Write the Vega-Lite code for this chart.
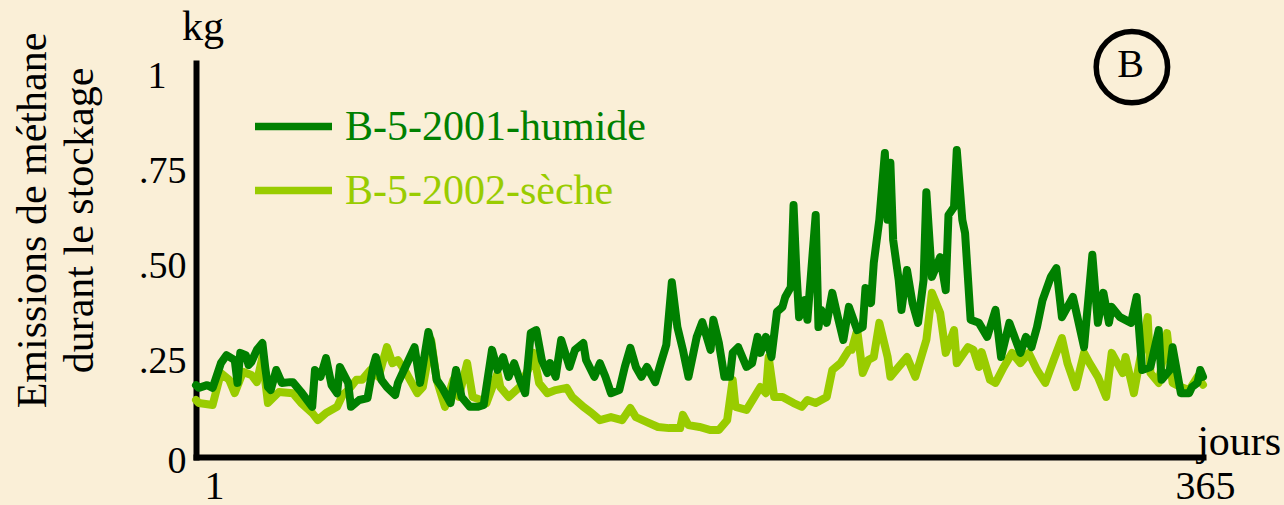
{
  "$schema": "https://vega.github.io/schema/vega-lite/v6.json",
  "autosize": "none",
  "width": 1007,
  "height": 394,
  "padding": {"left": 196, "top": 63, "right": 81, "bottom": 48},
  "background": "#FAEFD7",
  "config": {"font": "Liberation Serif", "view": {"stroke": null}, "legend": {"labelFont": "Liberation Serif"}, "axis": {"labelFont": "Liberation Serif", "titleFont": "Liberation Serif"}},
  "datasets": {
    "humide": [
{"day":1,"kg":0.189},{"day":2,"kg":0.182},{"day":5,"kg":0.189},{"day":7,"kg":0.182},{"day":8,"kg":0.203},{"day":10,"kg":0.247},{"day":12,"kg":0.268},{"day":15,"kg":0.255},{"day":16,"kg":0.195},{"day":17,"kg":0.274},{"day":19,"kg":0.268},{"day":20,"kg":0.242},{"day":21,"kg":0.25},{"day":23,"kg":0.282},{"day":25,"kg":0.30},{"day":26,"kg":0.237},{"day":27,"kg":0.184},{"day":28,"kg":0.176},{"day":30,"kg":0.229},{"day":32,"kg":0.195},{"day":35,"kg":0.197},{"day":36,"kg":0.197},{"day":39,"kg":0.171},{"day":43,"kg":0.132},{"day":44,"kg":0.229},{"day":46,"kg":0.211},{"day":48,"kg":0.26},{"day":50,"kg":0.189},{"day":52,"kg":0.168},{"day":53,"kg":0.237},{"day":56,"kg":0.195},{"day":57,"kg":0.132},{"day":60,"kg":0.15},{"day":63,"kg":0.155},{"day":65,"kg":0.237},{"day":66,"kg":0.263},{"day":68,"kg":0.203},{"day":70,"kg":0.184},{"day":73,"kg":0.163},{"day":74,"kg":0.195},{"day":77,"kg":0.242},{"day":80,"kg":0.289},{"day":82,"kg":0.195},{"day":85,"kg":0.329},{"day":86,"kg":0.30},{"day":88,"kg":0.203},{"day":90,"kg":0.182},{"day":93,"kg":0.142},{"day":95,"kg":0.229},{"day":97,"kg":0.158},{"day":100,"kg":0.132},{"day":103,"kg":0.132},{"day":105,"kg":0.137},{"day":108,"kg":0.282},{"day":110,"kg":0.229},{"day":112,"kg":0.263},{"day":114,"kg":0.211},{"day":116,"kg":0.247},{"day":118,"kg":0.203},{"day":120,"kg":0.168},{"day":122,"kg":0.326},{"day":124,"kg":0.334},{"day":126,"kg":0.255},{"day":128,"kg":0.221},{"day":129,"kg":0.247},{"day":131,"kg":0.211},{"day":133,"kg":0.308},{"day":136,"kg":0.237},{"day":138,"kg":0.282},{"day":141,"kg":0.30},{"day":142,"kg":0.255},{"day":145,"kg":0.211},{"day":147,"kg":0.247},{"day":149,"kg":0.211},{"day":151,"kg":0.168},{"day":154,"kg":0.176},{"day":156,"kg":0.237},{"day":158,"kg":0.287},{"day":160,"kg":0.237},{"day":162,"kg":0.211},{"day":164,"kg":0.237},{"day":167,"kg":0.197},{"day":169,"kg":0.247},{"day":171,"kg":0.295},{"day":173,"kg":0.46},{"day":175,"kg":0.342},{"day":177,"kg":0.282},{"day":179,"kg":0.211},{"day":182,"kg":0.316},{"day":184,"kg":0.355},{"day":187,"kg":0.282},{"day":188,"kg":0.361},{"day":190,"kg":0.30},{"day":192,"kg":0.211},{"day":194,"kg":0.211},{"day":195,"kg":0.274},{"day":197,"kg":0.289},{"day":200,"kg":0.237},{"day":202,"kg":0.247},{"day":204,"kg":0.316},{"day":205,"kg":0.274},{"day":207,"kg":0.316},{"day":209,"kg":0.263},{"day":211,"kg":0.382},{"day":213,"kg":0.395},{"day":214,"kg":0.421},{"day":216,"kg":0.447},{"day":217,"kg":0.663},{"day":218,"kg":0.492},{"day":219,"kg":0.368},{"day":221,"kg":0.413},{"day":222,"kg":0.361},{"day":225,"kg":0.637},{"day":226,"kg":0.342},{"day":227,"kg":0.387},{"day":229,"kg":0.353},{"day":231,"kg":0.432},{"day":233,"kg":0.368},{"day":235,"kg":0.308},{"day":237,"kg":0.395},{"day":240,"kg":0.334},{"day":242,"kg":0.342},{"day":243,"kg":0.445},{"day":245,"kg":0.405},{"day":246,"kg":0.511},{"day":248,"kg":0.624},{"day":250,"kg":0.80},{"day":251,"kg":0.624},{"day":252,"kg":0.774},{"day":253,"kg":0.571},{"day":255,"kg":0.466},{"day":256,"kg":0.387},{"day":258,"kg":0.492},{"day":260,"kg":0.405},{"day":262,"kg":0.353},{"day":264,"kg":0.466},{"day":265,"kg":0.697},{"day":267,"kg":0.474},{"day":270,"kg":0.526},{"day":272,"kg":0.439},{"day":273,"kg":0.637},{"day":275,"kg":0.658},{"day":276,"kg":0.808},{"day":278,"kg":0.624},{"day":279,"kg":0.589},{"day":281,"kg":0.361},{"day":284,"kg":0.353},{"day":287,"kg":0.316},{"day":290,"kg":0.387},{"day":292,"kg":0.263},{"day":295,"kg":0.353},{"day":299,"kg":0.274},{"day":301,"kg":0.316},{"day":303,"kg":0.289},{"day":305,"kg":0.342},{"day":307,"kg":0.413},{"day":310,"kg":0.474},{"day":312,"kg":0.497},{"day":314,"kg":0.368},{"day":318,"kg":0.421},{"day":322,"kg":0.289},{"day":325,"kg":0.532},{"day":327,"kg":0.353},{"day":329,"kg":0.432},{"day":331,"kg":0.353},{"day":332,"kg":0.395},{"day":335,"kg":0.368},{"day":339,"kg":0.353},{"day":341,"kg":0.421},{"day":343,"kg":0.229},{"day":346,"kg":0.237},{"day":349,"kg":0.334},{"day":350,"kg":0.203},{"day":353,"kg":0.229},{"day":354,"kg":0.289},{"day":357,"kg":0.168},{"day":360,"kg":0.168},{"day":361,"kg":0.184},{"day":363,"kg":0.195},{"day":364,"kg":0.229},{"day":365,"kg":0.211}
    ],
    "seche": [
{"day":1,"kg":0.15},{"day":2,"kg":0.142},{"day":7,"kg":0.137},{"day":10,"kg":0.221},{"day":13,"kg":0.203},{"day":15,"kg":0.168},{"day":18,"kg":0.224},{"day":21,"kg":0.216},{"day":23,"kg":0.197},{"day":25,"kg":0.263},{"day":27,"kg":0.142},{"day":31,"kg":0.171},{"day":36,"kg":0.168},{"day":39,"kg":0.142},{"day":43,"kg":0.116},{"day":45,"kg":0.097},{"day":48,"kg":0.116},{"day":52,"kg":0.132},{"day":54,"kg":0.163},{"day":56,"kg":0.176},{"day":59,"kg":0.203},{"day":61,"kg":0.203},{"day":64,"kg":0.229},{"day":67,"kg":0.211},{"day":70,"kg":0.289},{"day":72,"kg":0.247},{"day":74,"kg":0.255},{"day":77,"kg":0.221},{"day":81,"kg":0.168},{"day":83,"kg":0.184},{"day":86,"kg":0.308},{"day":88,"kg":0.203},{"day":91,"kg":0.132},{"day":94,"kg":0.203},{"day":96,"kg":0.158},{"day":99,"kg":0.247},{"day":101,"kg":0.158},{"day":104,"kg":0.15},{"day":106,"kg":0.142},{"day":110,"kg":0.221},{"day":111,"kg":0.184},{"day":114,"kg":0.158},{"day":118,"kg":0.184},{"day":121,"kg":0.229},{"day":123,"kg":0.274},{"day":125,"kg":0.195},{"day":128,"kg":0.168},{"day":131,"kg":0.176},{"day":135,"kg":0.182},{"day":137,"kg":0.158},{"day":141,"kg":0.132},{"day":144,"kg":0.116},{"day":147,"kg":0.097},{"day":151,"kg":0.105},{"day":155,"kg":0.097},{"day":158,"kg":0.129},{"day":160,"kg":0.105},{"day":164,"kg":0.092},{"day":168,"kg":0.079},{"day":172,"kg":0.076},{"day":176,"kg":0.076},{"day":177,"kg":0.111},{"day":179,"kg":0.084},{"day":183,"kg":0.079},{"day":187,"kg":0.071},{"day":190,"kg":0.071},{"day":193,"kg":0.097},{"day":195,"kg":0.203},{"day":196,"kg":0.132},{"day":200,"kg":0.124},{"day":205,"kg":0.184},{"day":207,"kg":0.168},{"day":208,"kg":0.263},{"day":210,"kg":0.158},{"day":213,"kg":0.158},{"day":217,"kg":0.142},{"day":220,"kg":0.132},{"day":222,"kg":0.15},{"day":225,"kg":0.142},{"day":229,"kg":0.158},{"day":231,"kg":0.229},{"day":234,"kg":0.247},{"day":237,"kg":0.282},{"day":238,"kg":0.282},{"day":240,"kg":0.334},{"day":242,"kg":0.221},{"day":244,"kg":0.255},{"day":246,"kg":0.263},{"day":248,"kg":0.353},{"day":251,"kg":0.263},{"day":252,"kg":0.211},{"day":255,"kg":0.237},{"day":258,"kg":0.263},{"day":261,"kg":0.211},{"day":265,"kg":0.308},{"day":267,"kg":0.432},{"day":270,"kg":0.379},{"day":272,"kg":0.274},{"day":275,"kg":0.334},{"day":276,"kg":0.247},{"day":280,"kg":0.289},{"day":282,"kg":0.282},{"day":284,"kg":0.237},{"day":285,"kg":0.276},{"day":288,"kg":0.203},{"day":290,"kg":0.195},{"day":293,"kg":0.237},{"day":296,"kg":0.274},{"day":299,"kg":0.247},{"day":302,"kg":0.274},{"day":305,"kg":0.229},{"day":308,"kg":0.195},{"day":311,"kg":0.255},{"day":314,"kg":0.313},{"day":316,"kg":0.247},{"day":319,"kg":0.184},{"day":322,"kg":0.274},{"day":324,"kg":0.247},{"day":327,"kg":0.211},{"day":330,"kg":0.158},{"day":332,"kg":0.274},{"day":336,"kg":0.221},{"day":337,"kg":0.263},{"day":340,"kg":0.168},{"day":342,"kg":0.247},{"day":345,"kg":0.368},{"day":346,"kg":0.221},{"day":349,"kg":0.195},{"day":352,"kg":0.326},{"day":354,"kg":0.195},{"day":357,"kg":0.184},{"day":360,"kg":0.176},{"day":363,"kg":0.211},{"day":365,"kg":0.19}
    ]
  },
  "layer": [
    {
      "data": {"name": "seche"},
      "transform": [{"calculate": "'B-5-2002-sèche'", "as": "series"}],
      "mark": {"type": "line", "strokeWidth": 8, "strokeJoin": "round", "strokeCap": "round", "clip": false},
      "encoding": {
        "x": {"field": "day", "type": "quantitative", "scale": {"domain": [1, 365], "nice": false, "zero": false},
          "axis": {"values": [1, 365], "format": "d", "ticks": false, "grid": false, "title": null, "labelFlush": false,
            "domainColor": "black", "domainWidth": 6, "domainCap": "square",
            "labelFont": "Liberation Serif", "labelFontSize": 40, "labelColor": "black", "labelPadding": 9,
            "labelOffset": {"condition": {"test": "datum.value == 1", "value": 18}, "value": 2}}},
        "y": {"field": "kg", "type": "quantitative", "scale": {"domain": [0, 1.0368], "nice": false},
          "axis": {"values": [0, 0.25, 0.5, 0.75, 1], "ticks": false, "grid": false, "labelFlush": false,
            "labelExpr": "datum.value == 0 ? '0' : datum.value == 1 ? '1' : replace(format(datum.value, '.2f'), '0.', '.')",
            "domainColor": "black", "domainWidth": 6, "domainCap": "square",
            "labelFont": "Liberation Serif", "labelFontSize": 38, "labelColor": "black",
            "labelPadding": {"condition": {"test": "datum.value == 1", "value": 30}, "value": 10},
            "labelOffset": {"condition": {"test": "datum.value == 0", "value": 4}, "value": 0},
            "title": ["Emissions de méthane", "durant le stockage"],
            "titleFont": "Liberation Serif", "titleFontSize": 42, "titleFontWeight": "normal", "titleColor": "black",
            "titleAngle": 270, "titleX": -151, "titleY": 157, "titleAlign": "center", "titleBaseline": "alphabetic", "titleLineHeight": 47}},
        "color": {"field": "series", "type": "nominal",
          "scale": {"domain": ["B-5-2001-humide", "B-5-2002-sèche"], "range": ["#008000", "#99CC00"]},
          "legend": {"orient": "none", "legendX": 55, "legendY": 21, "title": null, "padding": 0,
            "symbolType": "stroke", "symbolSize": 5929, "symbolStrokeWidth": 7.5,
            "labelFont": "Liberation Serif", "labelFontSize": 42, "labelOffset": 9, "rowPadding": 0, "labelLimit": 0,
            "labelColor": {"expr": "datum.label == 'B-5-2001-humide' ? '#008000' : '#99CC00'"}}}
      }
    },
    {
      "data": {"name": "humide"},
      "transform": [{"calculate": "'B-5-2001-humide'", "as": "series"}],
      "mark": {"type": "line", "strokeWidth": 8, "strokeJoin": "round", "strokeCap": "round", "clip": false},
      "encoding": {
        "x": {"field": "day", "type": "quantitative"},
        "y": {"field": "kg", "type": "quantitative"},
        "color": {"field": "series", "type": "nominal"}
      }
    },
    {
      "data": {"values": [{"t": "kg"}]},
      "mark": {"type": "text", "fontSize": 42, "font": "Liberation Serif", "align": "center", "baseline": "alphabetic", "color": "black"},
      "encoding": {"x": {"datum": 3.5}, "y": {"datum": 1.097}, "text": {"field": "t"}}
    },
    {
      "data": {"values": [{"t": "jours"}]},
      "mark": {"type": "text", "fontSize": 42, "font": "Liberation Serif", "align": "left", "baseline": "alphabetic", "color": "black"},
      "encoding": {"x": {"datum": 362.9}, "y": {"datum": 0.005}, "text": {"field": "t"}}
    },
    {
      "data": {"values": [{"t": "B"}]},
      "mark": {"type": "point", "shape": "circle", "size": 5100, "filled": false, "stroke": "black", "strokeWidth": 5.5, "opacity": 1},
      "encoding": {"x": {"datum": 339.3}, "y": {"datum": 1.026}}
    },
    {
      "data": {"values": [{"t": "B"}]},
      "mark": {"type": "text", "fontSize": 40, "font": "Liberation Serif", "align": "center", "baseline": "middle", "color": "black"},
      "encoding": {"x": {"datum": 338.8}, "y": {"datum": 1.031}, "text": {"field": "t"}}
    }
  ]
}
